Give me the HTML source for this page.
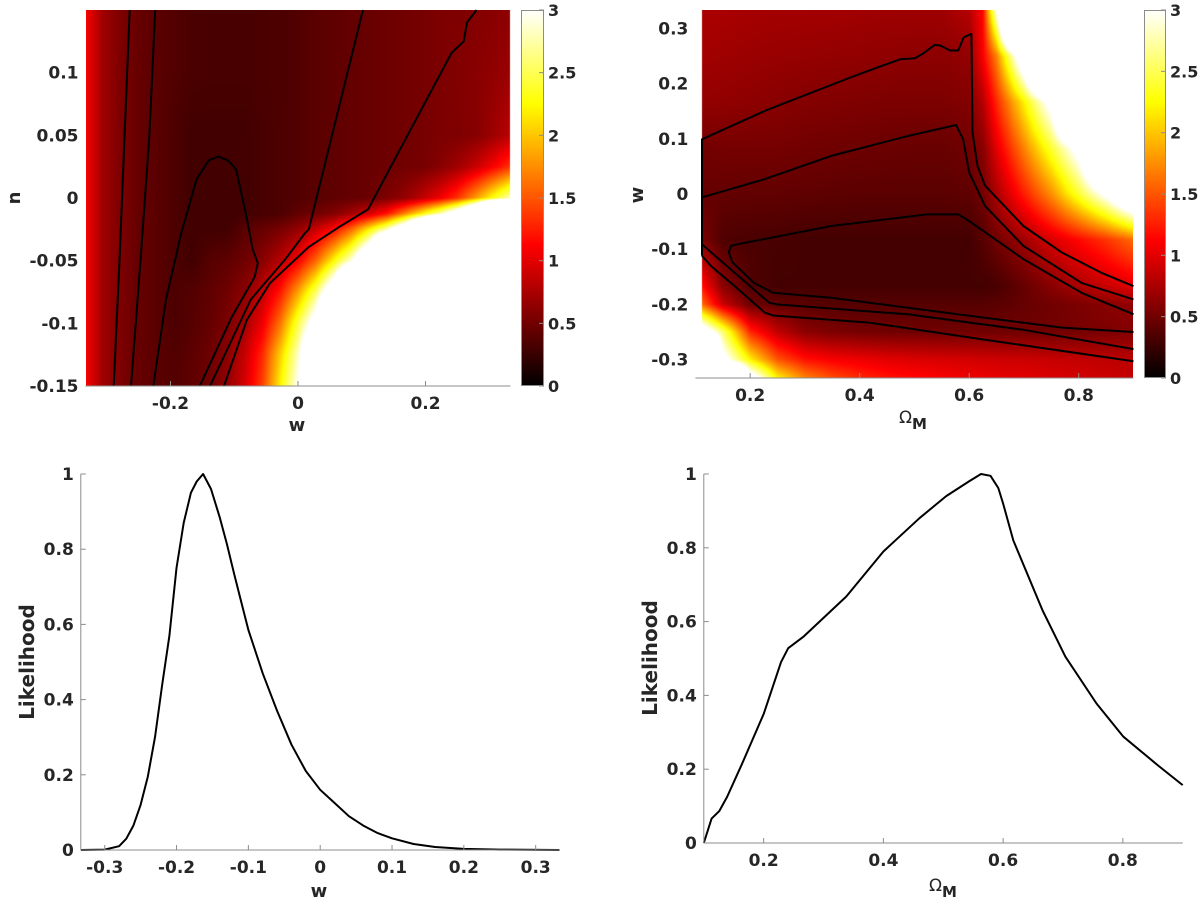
<!DOCTYPE html>
<html><head><meta charset="utf-8">
<style>
html,body{margin:0;padding:0;background:#fff;}
#wrap{position:relative;width:1200px;height:902px;overflow:hidden;font-family:"DejaVu Sans","Liberation Sans",sans-serif;}
canvas{position:absolute;}
svg{position:absolute;left:0;top:0;}
text{font-family:"DejaVu Sans","Liberation Sans",sans-serif;font-weight:bold;fill:#262626;}
</style></head>
<body>
<div id="wrap">
<canvas id="cTL"></canvas>
<canvas id="cTR"></canvas>
<canvas id="cbTL"></canvas>
<canvas id="cbTR"></canvas>
<svg id="svg" width="1200" height="902" xmlns="http://www.w3.org/2000/svg"></svg>
</div>
<script>
// ---------- Data ----------
const tlW=[-0.333,-0.306,-0.278,-0.25,-0.222,-0.194,-0.167,-0.139,-0.111,-0.083,-0.056,-0.028,0,0.028,0.056,0.083,0.111,0.139,0.167,0.194,0.222,0.25,0.278,0.306,0.333];
const tlN=[0.15,0.1,0.05,0.025,0,-0.0125,-0.025,-0.05,-0.075,-0.1,-0.125,-0.15];
const tlZ=[
[1.1,0.7,0.55,0.45,0.4,0.36,0.33,0.32,0.32,0.32,0.33,0.34,0.36,0.4,0.42,0.44,0.46,0.48,0.5,0.52,0.55,0.56,0.58,0.6,0.62],
[1.1,0.7,0.55,0.45,0.4,0.36,0.33,0.32,0.32,0.32,0.33,0.34,0.36,0.4,0.42,0.44,0.46,0.48,0.5,0.52,0.55,0.57,0.6,0.64,0.68],
[1.1,0.7,0.55,0.45,0.4,0.34,0.29,0.29,0.29,0.29,0.32,0.34,0.36,0.4,0.42,0.44,0.46,0.48,0.5,0.52,0.55,0.56,0.59,0.69,0.83],
[1.1,0.7,0.55,0.45,0.4,0.34,0.29,0.29,0.29,0.29,0.32,0.34,0.36,0.4,0.42,0.44,0.46,0.48,0.5,0.52,0.59,0.7,0.87,1.1,1.35],
[1.1,0.7,0.55,0.45,0.4,0.34,0.29,0.29,0.29,0.29,0.32,0.34,0.36,0.4,0.42,0.44,0.47,0.55,0.65,0.83,1.05,1.35,1.8,2.3,2.8],
[1.1,0.7,0.55,0.45,0.4,0.34,0.29,0.29,0.29,0.29,0.32,0.34,0.43,0.49,0.58,0.72,0.92,1.2,1.7,2.2,2.75,3.5,4.8,8,8],
[1.1,0.7,0.55,0.45,0.4,0.34,0.29,0.29,0.29,0.4,0.45,0.53,0.65,0.87,1.15,1.57,2.17,2.8,3.7,5.3,8,8,8,8,8],
[1.1,0.7,0.55,0.45,0.4,0.34,0.29,0.38,0.42,0.49,0.6,0.8,1.1,1.57,2.23,2.9,4.0,7,8,8,8,8,8,8,8],
[1.1,0.7,0.55,0.45,0.4,0.34,0.37,0.42,0.49,0.62,0.85,1.22,1.83,2.55,3.6,5.6,8,8,8,8,8,8,8,8,8],
[1.1,0.7,0.55,0.45,0.4,0.34,0.38,0.44,0.54,0.73,1.05,1.63,2.45,3.3,5.8,8,8,8,8,8,8,8,8,8,8],
[1.1,0.7,0.55,0.45,0.4,0.36,0.41,0.48,0.61,0.88,1.3,2.03,2.83,4.3,8,8,8,8,8,8,8,8,8,8,8],
[1.1,0.7,0.55,0.45,0.4,0.37,0.42,0.5,0.65,0.95,1.4,2.2,3.0,4.5,8,8,8,8,8,8,8,8,8,8,8]];
const trO=[0.112,0.15,0.2,0.25,0.3,0.35,0.4,0.45,0.5,0.55,0.6,0.625,0.65,0.675,0.7,0.75,0.8,0.85,0.9];
const trW=[0.333,0.25,0.167,0.083,0,-0.083,-0.167,-0.2,-0.25,-0.3,-0.333];
const trZ=[
[0.75,0.75,0.73,0.72,0.72,0.72,0.71,0.7,0.7,0.7,0.8,1.15,3,6,8,8,8,8,8],
[0.72,0.7,0.68,0.67,0.66,0.65,0.64,0.63,0.62,0.62,0.65,1.1,1.7,2.6,3.6,7,8,8,8],
[0.65,0.64,0.62,0.6,0.58,0.57,0.56,0.55,0.55,0.55,0.58,0.8,1.3,1.75,2.2,3.2,6,8,8],
[0.5,0.52,0.52,0.52,0.5,0.49,0.48,0.47,0.46,0.46,0.5,0.6,1.0,1.35,1.7,2.4,3.2,5,7],
[0.45,0.44,0.43,0.43,0.42,0.41,0.4,0.4,0.4,0.4,0.42,0.5,0.75,1.0,1.25,1.75,2.4,3.1,4],
[0.55,0.35,0.33,0.32,0.3,0.3,0.3,0.3,0.3,0.3,0.3,0.38,0.5,0.6,0.7,0.95,1.15,1.35,1.6],
[1.2,0.6,0.36,0.3,0.3,0.3,0.3,0.3,0.3,0.3,0.3,0.3,0.32,0.38,0.45,0.6,0.75,0.88,1.0],
[1.6,0.9,0.48,0.42,0.4,0.38,0.38,0.38,0.38,0.38,0.38,0.38,0.4,0.42,0.45,0.5,0.55,0.6,0.65],
[3.5,2.6,1.3,0.85,0.62,0.55,0.52,0.5,0.5,0.5,0.5,0.5,0.5,0.5,0.5,0.5,0.52,0.55,0.58],
[8,3.2,2.2,1.5,1.2,1.1,1.05,1.0,0.97,0.95,0.93,0.92,0.91,0.9,0.9,0.88,0.86,0.84,0.82],
[8,6,3.4,2.2,1.7,1.45,1.3,1.2,1.15,1.1,1.05,1.04,1.02,1.0,1.0,0.96,0.93,0.9,0.87]];
// contour lines (data coords)
const tlContours=[
[[-0.264,0.15],[-0.272,0.05],[-0.28,-0.05],[-0.289,-0.15]],
[[-0.224,0.15],[-0.233,0.05],[-0.247,-0.05],[-0.262,-0.15]],
[[-0.227,-0.15],[-0.207,-0.081],[-0.183,-0.028],[-0.159,0.015],[-0.14,0.03],[-0.125,0.033],[-0.11,0.03],[-0.097,0.0226],[-0.08,-0.017],[-0.071,-0.041],[-0.063,-0.052],[-0.068,-0.063],[-0.104,-0.095],[-0.154,-0.15]],
[[0.102,0.15],[0.017,-0.025],[0.011,-0.028],[-0.02,-0.049],[-0.074,-0.081],[-0.138,-0.15]],
[[0.28,0.15],[0.265,0.14],[0.26,0.125],[0.241,0.116],[0.11,-0.009],[0.065,-0.023],[0.017,-0.039],[-0.044,-0.068],[-0.08,-0.097],[-0.116,-0.15]]];
const trContours=[
[[0.112,-0.112],[0.112,0.099],[0.228,0.151],[0.383,0.211],[0.432,0.229],[0.474,0.244],[0.501,0.246],[0.515,0.254],[0.537,0.27],[0.547,0.269],[0.565,0.26],[0.58,0.26],[0.59,0.284],[0.604,0.29],[0.606,0.112],[0.615,0.051],[0.629,0.015],[0.699,-0.058],[0.769,-0.106],[0.84,-0.142],[0.9,-0.167]],
[[0.112,-0.006],[0.227,0.027],[0.348,0.069],[0.488,0.105],[0.576,0.125],[0.589,0.099],[0.6,0.039],[0.629,-0.022],[0.699,-0.094],[0.805,-0.161],[0.9,-0.191]],
[[0.112,-0.112],[0.129,-0.131],[0.172,-0.167],[0.227,-0.215],[0.242,-0.22],[0.417,-0.233],[0.629,-0.264],[0.9,-0.303]],
[[0.112,-0.091],[0.136,-0.112],[0.235,-0.197],[0.249,-0.2],[0.488,-0.218],[0.699,-0.246],[0.9,-0.281]],
[[0.9,-0.218],[0.805,-0.179],[0.699,-0.118],[0.6,-0.049],[0.58,-0.037],[0.523,-0.037],[0.348,-0.058],[0.178,-0.091],[0.165,-0.094],[0.161,-0.106],[0.168,-0.124],[0.207,-0.161],[0.242,-0.179],[0.348,-0.188],[0.558,-0.215],[0.769,-0.242],[0.9,-0.25]]];
// likelihood curves
const blX=[-0.333,-0.3,-0.28,-0.27,-0.26,-0.25,-0.24,-0.23,-0.22,-0.21,-0.2,-0.19,-0.18,-0.172,-0.163,-0.152,-0.14,-0.13,-0.12,-0.11,-0.1,-0.08,-0.06,-0.04,-0.02,0,0.02,0.04,0.06,0.08,0.1,0.13,0.16,0.2,0.25,0.333];
const blY=[0,0.001,0.01,0.03,0.065,0.12,0.195,0.3,0.44,0.57,0.75,0.87,0.95,0.98,1.0,0.96,0.886,0.815,0.736,0.66,0.585,0.47,0.37,0.28,0.21,0.16,0.125,0.09,0.065,0.045,0.031,0.016,0.008,0.003,0.001,0];
const brX=[0.1,0.113,0.126,0.139,0.164,0.2,0.229,0.241,0.267,0.338,0.4,0.46,0.505,0.543,0.563,0.579,0.592,0.6,0.617,0.666,0.704,0.756,0.801,0.858,0.9];
const brY=[0,0.066,0.087,0.125,0.215,0.35,0.49,0.528,0.56,0.668,0.79,0.88,0.94,0.98,1.0,0.995,0.962,0.92,0.82,0.63,0.505,0.378,0.288,0.211,0.157];
const tlXTicks=[-0.2,0,0.2], tlXLabels=["-0.2","0","0.2"];
const tlYTicks=[0.1,0.05,0,-0.05,-0.1,-0.15], tlYLabels=["0.1","0.05","0","-0.05","-0.1","-0.15"];
const trXTicks=[0.2,0.4,0.6,0.8], trXLabels=["0.2","0.4","0.6","0.8"];
const trYTicks=[0.3,0.2,0.1,0,-0.1,-0.2,-0.3], trYLabels=["0.3","0.2","0.1","0","-0.1","-0.2","-0.3"];
const cbTicks=[0,0.5,1,1.5,2,2.5,3], cbLabels=["0","0.5","1","1.5","2","2.5","3"];
const blXTicks=[-0.3,-0.2,-0.1,0,0.1,0.2,0.3], blXLabels=["-0.3","-0.2","-0.1","0","0.1","0.2","0.3"];
const lkTicks=[0,0.2,0.4,0.6,0.8,1], lkLabels=["0","0.2","0.4","0.6","0.8","1"];
const brXTicks=[0.2,0.4,0.6,0.8], brXLabels=["0.2","0.4","0.6","0.8"];

// ---------- Helpers ----------
const NS="http://www.w3.org/2000/svg";
const svg=document.getElementById('svg');
function lin(d0,d1,r0,r1){return v=>r0+(v-d0)/(d1-d0)*(r1-r0);}
function mk(tag,attrs,parent){const e=document.createElementNS(NS,tag);for(const k in attrs)e.setAttribute(k,attrs[k]);(parent||svg).appendChild(e);return e;}
function hot(v){const t=Math.max(0,Math.min(1,v/3));const c=x=>Math.round(255*Math.max(0,Math.min(1,x)));return [c(t/0.375),c((t-0.375)/0.375),c((t-0.75)/0.25)];}
function interp(arr,v){
  const n=arr.length;const asc=arr[n-1]>arr[0];
  for(let i=0;i<n-1;i++){const a=arr[i],b=arr[i+1];
    if((asc&&v>=a&&v<=b)||(!asc&&v<=a&&v>=b))return [i,(v-a)/(b-a)];}
  return null;}
function heat(id,left,top,w,h,xs,ys,Z,sx,sy){
  const cv=document.getElementById(id);cv.width=w;cv.height=h;cv.style.left=left+'px';cv.style.top=top+'px';
  const ctx=cv.getContext('2d');const img=ctx.createImageData(w,h);
  for(let py=0;py<h;py++){const dy=sy(top+py+0.5);const iy=interp(ys,dy);
    for(let px=0;px<w;px++){const dx=sx(left+px+0.5);const ix=interp(xs,dx);const o=(py*w+px)*4;
      if(!ix||!iy){img.data[o+3]=0;continue;}
      const [i,fx]=ix,[j,fy]=iy;
      const v=(Z[j][i]*(1-fx)+Z[j][i+1]*fx)*(1-fy)+(Z[j+1][i]*(1-fx)+Z[j+1][i+1]*fx)*fy;
      const c=hot(v);img.data[o]=c[0];img.data[o+1]=c[1];img.data[o+2]=c[2];img.data[o+3]=255;}}
  ctx.putImageData(img,0,0);}
function colorbar(id,left,top,w,h){
  const cv=document.getElementById(id);cv.width=w;cv.height=h;cv.style.left=left+'px';cv.style.top=top+'px';
  const ctx=cv.getContext('2d');for(let y=0;y<h;y++){const c=hot(3*(1-(y+0.5)/h));ctx.fillStyle=`rgb(${c[0]},${c[1]},${c[2]})`;ctx.fillRect(0,y,w,1);}}
function poly(pts,X,Y,name){const d=pts.map((p,i)=>(i?'L':'M')+X(p[0]).toFixed(1)+' '+Y(p[1]).toFixed(1)).join(' ');
  const e=mk('path',{d:d,fill:'none',stroke:'#000','stroke-width':2,'stroke-linejoin':'round'});
  
  return e;}
function txt(x,y,s,anchor,name,size,extra){const e=mk('text',Object.assign({x:x,y:y,'text-anchor':anchor||'middle',style:'font-size:'+(size||17)+'px'},extra||{}));e.textContent=s;
  
  return e;}
function xAxis(X,y,x0,x1,ticks,labels,name){
  const ln=mk('line',{x1:x0,x2:x1,y1:y,y2:y,stroke:'#8c8c8c','stroke-width':1});
  
  
  ticks.forEach((t,i)=>{mk('line',{x1:X(t),x2:X(t),y1:y,y2:y-5,stroke:'#8c8c8c'});txt(X(t),y+23,labels[i],'middle',name+'-tick-label');});}
function yAxis(Y,x,y0,y1,ticks,labels,name,drawLine){
  if(drawLine){const ln=mk('line',{x1:x,x2:x,y1:y0,y2:y1,stroke:'#8c8c8c','stroke-width':1});
    
    }
  ticks.forEach((t,i)=>{if(drawLine)mk('line',{x1:x,x2:x+5,y1:Y(t),y2:Y(t),stroke:'#8c8c8c'});txt(x-7,Y(t)+6,labels[i],'end',name+'-tick-label');});}
function cbAxis(left,top,w,h,name){
  const r=mk('rect',{x:left+0.5,y:top+0.5,width:w-1,height:h-1,fill:'none',stroke:'#8c8c8c'});
  
  
  const Y=lin(0,3,top+h,top);
  cbTicks.forEach((t,i)=>{mk('line',{x1:left+w-5,x2:left+w,y1:Y(t),y2:Y(t),stroke:'#8c8c8c'});txt(left+w+4,Y(t)+6,cbLabels[i],'start',name+'-tick-label',16);});}
function omegaTitle(x,y,name){
  const t=txt(x,y,'','middle',name,17);
  const s1=mk('tspan',{style:'font-weight:normal'},t);s1.textContent='Ω';
  const s2=mk('tspan',{dy:6,style:'font-size:15px'},t);s2.textContent='M';}

// ---------- Top-left ----------
{const L=85.5,R=510.5,T=10,B=386;
 const X=lin(-0.3333,0.3333,L,R),Y=lin(0.15,-0.15,T,B);
 const sx=lin(L,R,-0.3333,0.3333),sy=lin(T,B,0.15,-0.15);
 heat('cTL',Math.round(L),T,Math.round(R-L),B-T,tlW,tlN,tlZ,sx,sy);
 tlContours.forEach((c,i)=>poly(c,X,Y,'contour-w-n-'+(i+1)));
 xAxis(X,B,L,R,tlXTicks,tlXLabels,'x-axis-w-top');
 yAxis(Y,L,T,B,tlYTicks,tlYLabels,'y-axis-n',false);
 txt(297,431,'w','middle','x-axis-title-w-top',18);
 txt(20,198,'n','middle','y-axis-title-n',18,{transform:'rotate(-90 20 198)'});
 colorbar('cbTL',521,10,23,376);cbAxis(521,10,23,376,'colorbar-left');}
// ---------- Top-right ----------
{const L=695.4,R=1133.5,T=10,B=378;
 const X=lin(0.1,0.9,L,R),Y=lin(0.3333,-0.3333,T,B);
 const sx=lin(L,R,0.1,0.9),sy=lin(T,B,0.3333,-0.3333);
 heat('cTR',Math.round(L),T,Math.round(R-L),B-T,trO,trW,trZ,sx,sy);
 trContours.forEach((c,i)=>poly(c,X,Y,'contour-omega-w-'+(i+1)));
 xAxis(X,B,L,R,trXTicks,trXLabels,'x-axis-omega-top');
 yAxis(Y,L,T,B,trYTicks,trYLabels,'y-axis-w',false);
 omegaTitle(913,423,'x-axis-title-omega-top');
 txt(643,195,'w','middle','y-axis-title-w',18,{transform:'rotate(-90 643 195)'});
 colorbar('cbTR',1144,10,22,368);cbAxis(1144,10,22,368,'colorbar-right');}
// ---------- Bottom-left ----------
{const L=80.8,R=559.6,T=474,B=850;
 const X=lin(-0.3333,0.3333,L,R),Y=lin(0,1,B,T);
 const pts=blX.map((x,i)=>[x,blY[i]]);
 poly(pts,X,Y,'likelihood-curve-w');
 xAxis(X,B,L,R,blXTicks,blXLabels,'x-axis-w-bottom');
 yAxis(Y,L,T,B,lkTicks,lkLabels,'y-axis-likelihood-left',true);
 txt(319,897,'w','middle','x-axis-title-w-bottom',18);
 txt(34,662,'Likelihood','middle','y-axis-title-likelihood-left',20,{transform:'rotate(-90 34 662)'});}
// ---------- Bottom-right ----------
{const L=703.8,R=1182.7,T=474,B=843;
 const X=lin(0.1,0.9,L,R),Y=lin(0,1,B,T);
 const pts=brX.map((x,i)=>[x,brY[i]]);
 poly(pts,X,Y,'likelihood-curve-omega');
 xAxis(X,B,L,R,brXTicks,brXLabels,'x-axis-omega-bottom');
 yAxis(Y,L,T,B,lkTicks,lkLabels,'y-axis-likelihood-right',true);
 omegaTitle(943,891,'x-axis-title-omega-bottom');
 txt(657,658,'Likelihood','middle','y-axis-title-likelihood-right',20,{transform:'rotate(-90 657 658)'});}
</script>
</body></html>
